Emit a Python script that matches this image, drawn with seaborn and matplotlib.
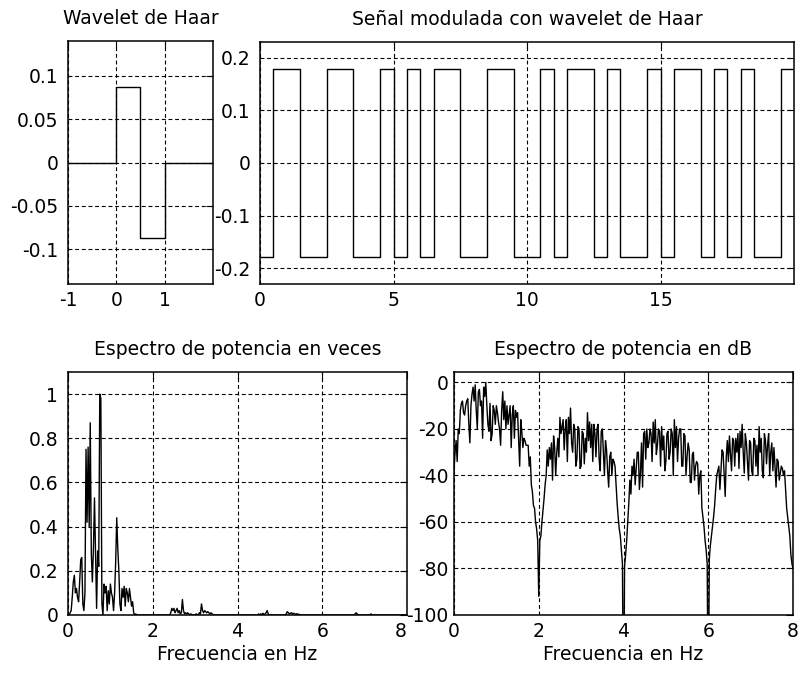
import numpy as np
import pandas as pd
import matplotlib
matplotlib.use("Agg")
import matplotlib.pyplot as plt
import seaborn as sns
from matplotlib.ticker import FuncFormatter, FixedLocator

# ---------------- data ----------------
# Haar wavelet (step levels, held until next time)
wavelet_t = [-1.0, 0.0, 0.5, 1.0, 2.0]
wavelet_v = [0.0, 0.087, -0.087, 0.0, 0.0]

# bits modulated with the Haar wavelet (1 s per bit)
bits = [0, 1, 0, 1, 0, 0, 0, 1, 0, 1, 0, 0, 1, 1, 0, 0, 1, 1, 1, 0]
amplitude = 0.178

# power spectrum (linear, normalised), 0..8 Hz step 0.025 Hz
power_lin = [
    0, 0, 0.01, 0.02, 0.08, 0.15, 0.18, 0.10, 0.12, 0.08, 0.06, 0.15, 0.25, 0.26, 0.05, 0.02, 0.10, 0.75, 0.42, 0.76,
    0.40, 0.87, 0.28, 0.15, 0.30, 0.53, 0.28, 0.03, 0.29, 0.22, 1.0, 0.98, 0.05, 0.0, 0.14, 0.10, 0.13, 0.02, 0.11, 0.05,
    0.14, 0.10, 0.08, 0.02, 0.10, 0.24, 0.44, 0.30, 0.20, 0.05, 0.02, 0.12, 0.08, 0.13, 0.04, 0.12, 0.10, 0.06, 0.12, 0.08,
    0.04, 0.06, 0.01, 0.0, 0.005, 0, 0, 0, 0, 0, 0, 0, 0, 0, 0, 0, 0, 0, 0, 0,
    0, 0, 0, 0, 0, 0, 0, 0, 0, 0, 0, 0, 0, 0, 0, 0, 0, 0.01, 0.03, 0.02,
    0.03, 0.01, 0.02, 0.03, 0.01, 0.02, 0.005, 0.01, 0.07, 0.02, 0.005, 0.01, 0.005, 0.01, 0.005, 0.0, 0.005, 0.002, 0.0, 0.0,
    0.0, 0.005, 0.002, 0.0, 0.01, 0.005, 0.05, 0.02, 0.01, 0.02, 0.015, 0.01, 0.015, 0.01, 0.005, 0.01, 0.005, 0.002, 0.0, 0.0,
    0, 0, 0, 0, 0, 0, 0, 0, 0, 0, 0, 0, 0, 0, 0, 0, 0, 0, 0, 0,
    0, 0, 0, 0, 0, 0, 0, 0, 0, 0, 0, 0, 0, 0, 0, 0, 0, 0, 0, 0,
    0.005, 0.0, 0.005, 0.002, 0.008, 0.0, 0.005, 0.01, 0.02, 0.005, 0.0, 0, 0, 0, 0, 0, 0, 0, 0, 0,
    0, 0, 0, 0, 0, 0, 0.005, 0.015, 0.01, 0.005, 0.008, 0.01, 0.005, 0.008, 0.005, 0.003, 0.006, 0.002, 0.004, 0,
    0, 0, 0, 0, 0, 0, 0, 0, 0, 0, 0, 0, 0, 0, 0, 0, 0, 0, 0, 0,
    0, 0, 0, 0, 0, 0, 0, 0, 0, 0, 0, 0, 0, 0, 0, 0, 0, 0, 0, 0,
    0, 0, 0, 0, 0, 0, 0, 0, 0, 0, 0, 0.005, 0.01, 0.005, 0, 0, 0, 0, 0, 0,
    0, 0, 0, 0, 0, 0, 0.005, 0, 0, 0, 0, 0, 0, 0, 0, 0, 0, 0, 0, 0,
    0, 0, 0, 0, 0, 0, 0, 0, 0, 0, 0, 0, 0, 0, 0, 0, 0, 0, 0, 0,
    0,
]

# power spectrum in dB, 0..8 Hz step 0.025 Hz (10 values = 0.25 Hz per row)
power_db = [
    -38, -30, -25, -34, -20, -22, -12, -9, -8, -13,
    -14, -10, -8, -7, -18, -26, -10, -5, -2, -8,
    -1, -12, -20, -4, -3, -10, -8, -24, -2, -6,
    0, -10, -18, -21, -9, -25, -22, -10, -12, -18,
    -10, -13, -17, -20, -27, -12, -4, -16, -8, -20,
    -10, -18, -14, -10, -28, -14, -10, -24, -12, -15,
    -13, -24, -36, -16, -21, -28, -24, -25, -27, -27,
    -27, -36, -32, -44, -47, -53, -54, -60, -63, -68,
    -92, -68, -66, -60, -55, -50, -44, -40, -29, -36,
    -28, -33, -26, -42, -23, -28, -40, -30, -24, -32,
    -15, -22, -19, -16, -29, -20, -16, -34, -15, -22,
    -11, -26, -30, -18, -20, -36, -33, -19, -20, -37,
    -36, -21, -22, -35, -24, -30, -13, -25, -17, -28,
    -18, -34, -18, -22, -32, -20, -18, -33, -38, -21,
    -20, -30, -40, -25, -29, -38, -45, -32, -30, -40,
    -33, -34, -36, -44, -52, -58, -63, -66, -72, -78,
    -150, -79, -74, -68, -60, -52, -42, -48, -36, -40,
    -33, -44, -37, -30, -30, -46, -39, -26, -45, -22,
    -21, -33, -20, -28, -26, -20, -22, -34, -17, -26,
    -16, -31, -27, -20, -21, -36, -19, -29, -23, -38,
    -34, -22, -21, -33, -30, -20, -22, -40, -16, -28,
    -19, -34, -24, -20, -20, -36, -36, -22, -23, -40,
    -32, -26, -29, -43, -43, -31, -30, -42, -36, -34,
    -35, -48, -40, -38, -54, -58, -62, -68, -72, -78,
    -150, -76, -70, -66, -62, -58, -53, -46, -40, -38,
    -36, -46, -38, -29, -30, -40, -49, -32, -25, -34,
    -23, -31, -38, -24, -25, -36, -24, -30, -22, -37,
    -21, -28, -18, -30, -39, -22, -26, -34, -42, -25,
    -26, -38, -40, -24, -25, -36, -27, -40, -19, -30,
    -24, -38, -41, -22, -25, -35, -27, -22, -40, -30,
    -26, -38, -28, -36, -45, -33, -34, -42, -39, -36,
    -37, -40, -38, -46, -54, -58, -62, -66, -74, -78,
    -80,
]

freq_lin = np.linspace(0, 8, len(power_lin))
freq_db = np.linspace(0, 8, len(power_db))

# signal built from the bits: bit 0 -> (-A, +A), bit 1 -> (+A, -A)
half_levels = []
for b in bits:
    half_levels += ([amplitude, -amplitude] if b else [-amplitude, amplitude])
signal_t = list(np.arange(len(half_levels)) * 0.5) + [len(bits)]
signal_v = half_levels + [half_levels[-1]]

# ---------------- style ----------------
sns.set_theme(style="white")
plt.rcParams["font.family"] = ["DejaVu Sans"]
plt.rcParams["axes.unicode_minus"] = False
FS = 13.5

fig = plt.figure(figsize=(7.98, 6.74), dpi=100)
W, H = 798.0, 674.0


def make_ax(x0, x1, y0, y1):
    return fig.add_axes([x0 / W, 1 - y1 / H, (x1 - x0) / W, (y1 - y0) / H])


ax1 = make_ax(68, 213, 41, 284)
ax2 = make_ax(260, 794, 42, 284)
ax3 = make_ax(68, 407, 372, 615)
ax4 = make_ax(454, 793, 372, 615)

line_kw = dict(color="black", linewidth=1.0, estimator=None, sort=False)

sns.lineplot(x=wavelet_t, y=wavelet_v, ax=ax1, drawstyle="steps-post", **line_kw)
sns.lineplot(x=signal_t, y=signal_v, ax=ax2, drawstyle="steps-post", **line_kw)
sns.lineplot(x=freq_lin, y=power_lin, ax=ax3, **line_kw)
sns.lineplot(x=freq_db, y=power_db, ax=ax4, **line_kw)

fmt = FuncFormatter(lambda v, p: f"{v:g}")


def style(ax, xlim, ylim, xt, yt, title, xlabel=None, ypad=7):
    ax.set_xlim(*xlim)
    ax.set_ylim(*ylim)
    ax.xaxis.set_major_locator(FixedLocator(xt))
    ax.yaxis.set_major_locator(FixedLocator(yt))
    ax.xaxis.set_major_formatter(fmt)
    ax.yaxis.set_major_formatter(fmt)
    ax.grid(True, color="black", linestyle=(0, (3.5, 2.5)), linewidth=0.8)
    ax.set_axisbelow(False)
    for s in ax.spines.values():
        s.set_color("black")
        s.set_linewidth(1.1)
        s.set_visible(True)
    ax.tick_params(direction="in", length=5, width=0.8, color="black",
                   top=True, right=True, labelsize=FS, labelcolor="black")
    ax.tick_params(axis="x", pad=5)
    ax.tick_params(axis="y", pad=ypad)
    ax.set_title(title, fontsize=FS, pad=12, color="black")
    ax.set_ylabel("")
    if xlabel:
        ax.set_xlabel(xlabel, fontsize=FS, labelpad=3, color="black")
    else:
        ax.set_xlabel("")


style(ax1, (-1, 2), (-0.14, 0.14), [-1, 0, 1], [-0.1, -0.05, 0, 0.05, 0.1],
      "Wavelet de Haar")
style(ax2, (0, 20), (-0.23, 0.23), [0, 5, 10, 15], [-0.2, -0.1, 0, 0.1, 0.2],
      "Señal modulada con wavelet de Haar")
style(ax3, (0, 8), (0, 1.1), [0, 2, 4, 6, 8], [0, 0.2, 0.4, 0.6, 0.8, 1],
      "Espectro de potencia en veces", "Frecuencia en Hz")
style(ax4, (0, 8), (-100, 4.5), [0, 2, 4, 6, 8], [-100, -80, -60, -40, -20, 0],
      "Espectro de potencia en dB", "Frecuencia en Hz", ypad=4)

# keep the last x label of the left spectrum clear of the "-100" label
ax3.xaxis.get_major_ticks()[-1].label1.set_horizontalalignment("right")

fig.savefig("out.png", dpi=100, facecolor="white")
